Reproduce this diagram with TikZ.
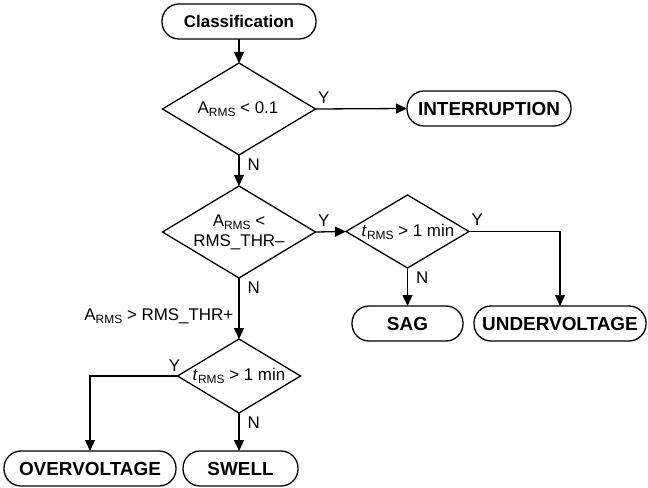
\documentclass[tikz,border=0pt]{standalone}
\usepackage{fontspec}
\setmainfont{Liberation Sans}
\usetikzlibrary{shapes.geometric,arrows.meta}
\newcommand\rmsub[1]{\raisebox{-3bp}{\fontsize{12}{12}\selectfont #1}}
\begin{document}
\begin{tikzpicture}[x=1bp,y=-1bp,
  every node/.style={font=\fontsize{17}{20}\selectfont},
  term/.style={draw, line width=1.3bp, rounded corners=17bp, minimum height=35bp, inner sep=0, outer sep=0, font=\fontsize{19}{20}\selectfont\bfseries},
  dia/.style={draw, diamond, line width=1.3bp, inner sep=0, outer sep=0},
  arr/.style={line width=1.3bp, -{Triangle[length=11bp,width=10bp]}},
  ylbl/.style={inner xsep=2bp, inner ysep=5bp},
  nlbl/.style={inner xsep=2bp, inner ysep=3bp, xshift=6bp}]
\useasboundingbox (0,0) rectangle (648,488);
\node[term, minimum width=154bp, font=\fontsize{17}{20}\selectfont\bfseries] (cls) at (239,21.5) {Classification};
\node[dia, minimum width=153bp, minimum height=92bp] (d1) at (239,109) {};
\node (d1t) at (238,109) {A\rmsub{RMS} < 0.1};
\node[term, minimum width=164bp] (intr) at (489,108.5) {INTERRUPTION};
\node[dia, minimum width=153bp, minimum height=92bp] (d2) at (239,232) {};
\node[align=center] (d2t) at (239,232) {A\rmsub{RMS} <\\RMS\_THR–};
\node[dia, minimum width=123bp, minimum height=73bp] (d3) at (407.5,231.5) {};
\node (d3t) at (408,231.5) {\textit{t}\rmsub{RMS} > 1 min};
\node[term, minimum width=111bp] (sag) at (407.5,323.5) {SAG};
\node[term, minimum width=172bp] (under) at (560,323.5) {UNDERVOLTAGE};
\node[dia, minimum width=123bp, minimum height=74bp] (d4) at (239,376) {};
\node (d4t) at (239,376) {\textit{t}\rmsub{RMS} > 1 min};
\node[term, minimum width=172bp] (over) at (90,468.5) {OVERVOLTAGE};
\node[term, minimum width=115bp] (swell) at (240.5,468.5) {SWELL};

\draw[arr] (cls.south) -- (d1.north);
\draw[arr] (d1.east) -- node[pos=0,anchor=south west,ylbl] (y1) {Y} (intr.west);
\draw[arr] (d1.south) -- node[pos=0,anchor=north west,nlbl] (n1) {N} (d2.north);
\draw[arr] (d2.east) -- node[pos=0,anchor=south west,ylbl] (y2) {Y} (d3.west);
\draw[arr] (d3.south) -- node[pos=0,anchor=north west,nlbl] (n3) {N} (sag.north);
\draw[arr] (d3.east) -| node[pos=0,anchor=south west,ylbl] (y3) {Y} (under.north);
\draw[arr] (d2.south) -- node[pos=0,anchor=north west,nlbl] (n2) {N}
  node[pos=0.62,anchor=east,inner sep=5bp] (thrp) {A\rmsub{RMS} > RMS\_THR+} (d4.north);
\draw[arr] (d4.west) -| node[pos=0,anchor=south,inner sep=4bp,xshift=-3bp] (y4) {Y} (over.north);
\draw[arr] (d4.south) -- node[pos=0,anchor=north west,nlbl] (n4) {N} (d4.south |- swell.north);
\end{tikzpicture}
\end{document}
